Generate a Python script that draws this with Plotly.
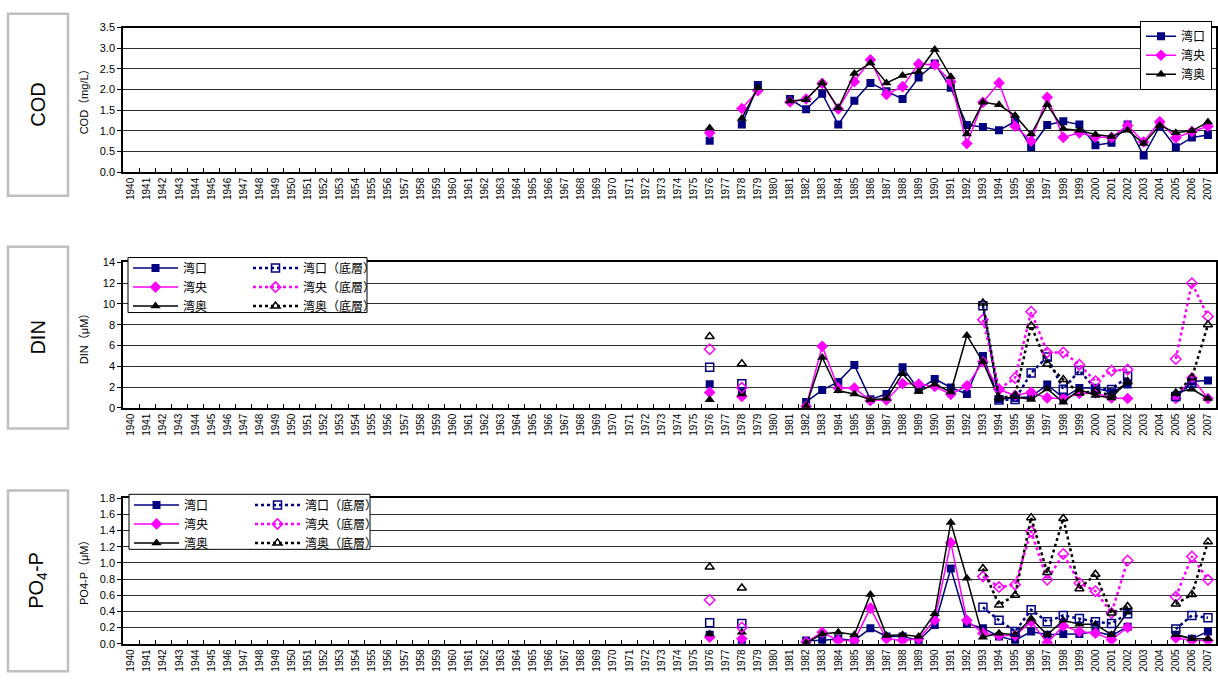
import plotly.graph_objects as go

W, H = 1218, 687

# category axis: every year 1940-2007
all_years = [str(y) for y in range(1940, 2008)]
# observed years (1976-2007), None = no survey
obs_years = [str(y) for y in range(1976, 2008)]

N = None
# ---- COD (mg/L), surface ----
cod_mouth = [0.76, N, 1.15, 2.11, N, 1.77, 1.52, 1.90, 1.15, 1.73, 2.16, 1.96, 1.77, 2.29, 2.63, 2.04,
             1.14, 1.09, 1.01, 1.23, 0.60, 1.14, 1.23, 1.15, 0.65, 0.71, 1.15, 0.40, 1.11, 0.60, 0.84, 0.90]
cod_center = [0.95, N, 1.54, 1.97, N, 1.70, 1.77, 2.15, 1.53, 2.19, 2.72, 1.88, 2.07, 2.62, 2.60, 2.19,
              0.69, 1.69, 2.16, 1.11, 0.75, 1.81, 0.84, 0.95, 0.85, 0.84, 1.13, 0.73, 1.22, 0.83, 0.98, 1.11]
cod_inner = [1.07, N, 1.30, 2.04, N, 1.72, 1.75, 2.16, 1.55, 2.39, 2.64, 2.16, 2.34, 2.43, 2.97, 2.31,
             0.92, 1.69, 1.63, 1.37, 0.92, 1.63, 1.05, 1.01, 0.91, 0.86, 1.01, 0.69, 1.13, 0.95, 1.00, 1.21]

# ---- DIN (uM) ----
din_mouth = [2.28, N, 1.50, N, N, N, 0.57, 1.71, 2.50, 4.12, 0.82, 1.33, 3.90, 1.74, 2.79, 1.96,
             1.33, 5.00, 0.85, 0.96, 1.06, 2.24, 0.96, 1.92, 1.92, 1.50, 2.24, N, N, 1.05, 2.53, 2.63]
din_center = [1.49, N, 1.10, N, N, N, 0.15, 5.92, 1.90, 1.90, 0.70, 0.76, 2.34, 2.28, 2.06, 1.30,
              2.12, 4.43, 1.76, 1.20, 1.50, 0.96, 0.90, 1.38, 1.44, 0.96, 0.90, N, N, 0.90, 2.90, 0.90]
din_inner = [0.79, N, 1.33, N, N, N, 0.16, 4.85, 1.65, 1.33, 0.79, 0.89, 3.29, 1.58, 2.28, 1.52,
             6.97, 4.43, 0.86, 1.06, 0.80, 1.82, 0.54, 1.76, 1.18, 0.96, 2.62, N, N, 1.49, 1.80, 0.90]
din_mouth_b = [3.90, N, 2.31, N, N, N, N, N, N, N, N, N, N, N, N, N,
               N, 9.82, 0.75, 0.80, 3.36, 4.90, 1.80, 3.60, 1.86, 1.76, 3.04, N, N, 1.10, 2.40, N]
din_center_b = [5.64, N, 1.93, N, N, N, N, N, N, N, N, N, N, N, N, N,
                N, 8.49, 1.80, 2.88, 9.25, 5.34, 5.34, 4.16, 2.56, 3.58, 3.68, N, N, 4.70, 12.0, 8.80]
din_inner_b = [6.87, N, 4.24, N, N, N, N, N, N, N, N, N, N, N, N, N,
               N, 10.1, 0.95, 1.18, 7.90, 4.22, 2.72, 1.43, 1.60, 1.20, 2.50, N, N, 1.40, 2.90, 8.00]

# ---- PO4-P (uM) ----
po4_mouth = [0.11, N, 0.01, N, N, N, 0.04, 0.04, 0.06, 0.04, 0.19, 0.09, 0.09, 0.04, 0.23, 0.93,
             0.25, 0.19, 0.09, 0.04, 0.15, 0.11, 0.12, 0.12, 0.15, 0.10, 0.21, N, N, 0.11, 0.06, 0.15]
po4_center = [0.08, N, 0.06, N, N, N, 0.02, 0.14, 0.04, 0.04, 0.44, 0.06, 0.04, 0.06, 0.29, 1.25,
              0.29, 0.13, 0.10, 0.10, 0.27, 0.01, 0.22, 0.15, 0.13, 0.05, 0.20, N, N, 0.07, 0.04, 0.04]
po4_inner = [0.12, N, 0.14, N, N, N, 0.01, 0.12, 0.14, 0.11, 0.61, 0.10, 0.11, 0.09, 0.37, 1.50,
             0.81, 0.08, 0.13, 0.11, 0.31, 0.11, 0.29, 0.24, 0.24, 0.11, 0.39, N, N, 0.11, 0.06, 0.06]
po4_mouth_b = [0.26, N, 0.25, N, N, N, N, N, N, N, N, N, N, N, N, N,
               N, 0.45, 0.29, 0.15, 0.42, 0.27, 0.35, 0.31, 0.27, 0.25, 0.37, N, N, 0.18, 0.35, 0.32]
po4_center_b = [0.54, N, 0.20, N, N, N, N, N, N, N, N, N, N, N, N, N,
                N, 0.83, 0.70, 0.73, 1.39, 0.79, 1.11, 0.75, 0.65, 0.38, 1.03, N, N, 0.58, 1.08, 0.79]
po4_inner_b = [0.95, N, 0.69, N, N, N, N, N, N, N, N, N, N, N, N, N,
               N, 0.93, 0.48, 0.60, 1.56, 0.88, 1.55, 0.68, 0.86, 0.38, 0.46, N, N, 0.49, 0.61, 1.26]

NAMES = ["湾口", "湾央", "湾奥"]
NAMES_B = ["湾口（底層）", "湾央（底層）", "湾奥（底層）"]
COLORS = ["#000080", "#FF00FF", "#000000"]
SYMBOLS = ["square", "diamond", "triangle-up"]
SIZES = [8, 9, 9]
SYMBOLS_B = ["square-open", "diamond-open", "triangle-up-open"]

FONT = "Liberation Sans, Arial, Noto Sans CJK JP, sans-serif"
JP = "Noto Sans CJK JP, Liberation Sans, sans-serif"

fig = go.Figure()


def add_surface(series, xa, ya, legend):
    for name, vals, c, s, sz in zip(NAMES, series, COLORS, SYMBOLS, SIZES):
        fig.add_trace(go.Scatter(
            x=obs_years, y=vals, name=name, mode="lines+markers",
            line=dict(color=c, width=1.5),
            marker=dict(symbol=s, size=sz, color=c),
            xaxis=xa, yaxis=ya, legend=legend, connectgaps=False))


def add_bottom(series, xa, ya, legend):
    for name, vals, c, s in zip(NAMES_B, series, COLORS, SYMBOLS_B):
        fig.add_trace(go.Scatter(
            x=obs_years, y=vals, name=name, mode="lines+markers",
            line=dict(color=c, width=2.5, dash="dot"),
            marker=dict(symbol=s, size=8, color=c, line=dict(width=1.5, color=c)),
            xaxis=xa, yaxis=ya, legend=legend, connectgaps=False))


add_surface([cod_mouth, cod_center, cod_inner], "x", "y", "legend")
add_surface([din_mouth, din_center, din_inner], "x2", "y2", "legend2")
add_bottom([din_mouth_b, din_center_b, din_inner_b], "x2", "y2", "legend3")
add_surface([po4_mouth, po4_center, po4_inner], "x3", "y3", "legend4")
add_bottom([po4_mouth_b, po4_center_b, po4_inner_b], "x3", "y3", "legend5")


def px_x(v):
    return v / W


def px_y(v):
    return 1 - v / H


X_DOM = [px_x(123), px_x(1216)]


def xaxis_cfg(anchor):
    return dict(
        domain=X_DOM, anchor=anchor, type="category",
        categoryorder="array", categoryarray=all_years,
        range=[-0.5, len(all_years) - 0.5],
        tickmode="array", tickvals=all_years, ticktext=all_years,
        tickson="boundaries", ticks="inside", ticklen=4, tickcolor="black",
        tickangle=-90, tickfont=dict(family=FONT, size=10, color="black"),
        showline=True, linecolor="black", linewidth=1.5, mirror=True,
        showgrid=False, zeroline=False, fixedrange=True)


def yaxis_cfg(anchor, top, bottom, rng, dtick, fmt):
    return dict(
        domain=[px_y(bottom), px_y(top)], anchor=anchor,
        range=rng, dtick=dtick, tick0=0, tickformat=fmt,
        ticks="outside", ticklen=4, tickcolor="black",
        tickfont=dict(family=FONT, size=11, color="black"),
        showline=True, linecolor="black", linewidth=1.5, mirror=True,
        showgrid=True, gridcolor="#303030", gridwidth=1,
        zeroline=False, fixedrange=True)


shapes = []
annotations = []

# left-hand panel title boxes
for top, bot, label in [(8, 193, "COD"), (245, 430, "DIN"), (493, 677, "PO<sub>4</sub>-P")]:
    shapes.append(dict(type="rect", xref="paper", yref="paper",
                       x0=px_x(8), x1=px_x(68), y0=px_y(bot), y1=px_y(top),
                       line=dict(color="#BFBFBF", width=2.5), fillcolor="white", layer="below"))
    annotations.append(dict(xref="paper", yref="paper", x=px_x(38), y=px_y((top + bot) / 2),
                            xanchor="center", yanchor="middle",
                            text=label, textangle=-90, showarrow=False,
                            font=dict(family=FONT, size=20, color="black")))

# y-axis titles
for yc, text in [(95, "COD（mg/L）"), (336, "DIN（μM）"), (574, "PO4-P（μM）")]:
    annotations.append(dict(xref="paper", yref="paper", x=px_x(84), y=px_y(yc),
                            xanchor="center", yanchor="middle",
                            text=text, textangle=-90, showarrow=False,
                            font=dict(family=FONT, size=11, color="black")))

# frames behind the two-column legends
for top, bot, l, r in [(256, 312, 128, 367), (497, 553, 129, 370)]:
    shapes.append(dict(type="rect", xref="paper", yref="paper",
                       x0=px_x(l), x1=px_x(r), y0=px_y(bot), y1=px_y(top),
                       line=dict(color="black", width=1), fillcolor="white", layer="above"))

leg_font = dict(family=JP, size=12, color="black")


def legend_cfg(x, ytop, border=False):
    d = dict(x=px_x(x), y=px_y(ytop), xanchor="left", yanchor="top",
             font=leg_font, bgcolor="rgba(0,0,0,0)", tracegroupgap=0,
             itemwidth=45, orientation="v", itemclick=False, itemdoubleclick=False)
    if border:
        d.update(bgcolor="white", bordercolor="black", borderwidth=1, itemwidth=30)
    return d


fig.update_layout(
    width=W, height=H,
    margin=dict(l=0, r=0, t=0, b=0),
    paper_bgcolor="white", plot_bgcolor="white",
    font=dict(family=FONT, color="black"),
    xaxis=xaxis_cfg("y"), xaxis2=xaxis_cfg("y2"), xaxis3=xaxis_cfg("y3"),
    yaxis=yaxis_cfg("x", 22, 169, [0, 3.5], 0.5, ".1f"),
    yaxis2=yaxis_cfg("x2", 261, 409, [0, 14], 2, "d"),
    yaxis3=yaxis_cfg("x3", 501, 649, [0, 1.8], 0.2, ".1f"),
    legend=legend_cfg(1140, 15, border=True),
    legend2=legend_cfg(128, 252),
    legend3=legend_cfg(248, 252),
    legend4=legend_cfg(129, 493),
    legend5=legend_cfg(250, 493),
    shapes=shapes, annotations=annotations,
    showlegend=True,
)

fig.write_html("out.html")
